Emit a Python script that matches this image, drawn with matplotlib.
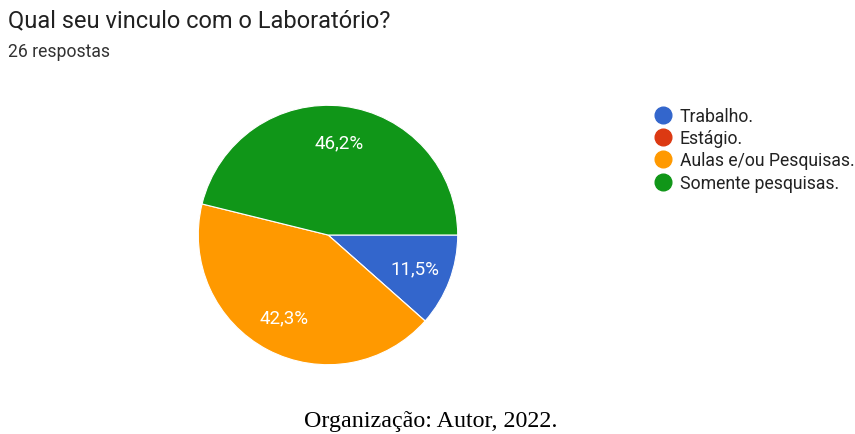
import matplotlib
matplotlib.use("Agg")
from matplotlib import pyplot as plt
from matplotlib.lines import Line2D

title = "Qual seu vinculo com o Laboratório?"
subtitle = "26 respostas"
caption = "Organização: Autor, 2022."
labels = ["Trabalho.", "Estágio.", "Aulas e/ou Pesquisas.", "Somente pesquisas."]
counts = [3, 0, 11, 12]
colors = ["#3366cc", "#dc3912", "#ff9900", "#109618"]


def pctFormat(p):
	if p < 0.05:
		return ""
	return "{0:.1f}%".format(p).replace(".", ",")


plt.rcParams["font.family"] = ["Roboto", "DejaVu Sans"]
fig = plt.figure(figsize=(8.55, 4.35), dpi=100)

# Pie #
ax = fig.add_axes([197 / 855, 68 / 435, 262 / 855, 262 / 435])
wedges, texts, autotexts = ax.pie(counts, colors=colors, startangle=0, counterclock=False,
	autopct=pctFormat, pctdistance=0.72, radius=1,
	wedgeprops={"edgecolor": "white", "linewidth": 0.8},
	textprops={"color": "white", "fontsize": 13.5})
ax.set_xlim(-1.01, 1.01)
ax.set_ylim(-1.01, 1.01)
ax.set_aspect("equal")
ax.axis("off")

# Legend #
handles = [Line2D([], [], linestyle="none", marker="o", markersize=12,
	markerfacecolor=c, markeredgecolor=c) for c in colors]
fig.legend(handles, labels, loc="upper left", bbox_to_anchor=(654 / 855, 1 - 108 / 435),
	frameon=False, fontsize=12.7, labelspacing=0.24, handletextpad=0.45,
	handlelength=1.0, borderaxespad=0, borderpad=0, labelcolor="#222222")

# Texts #
fig.text(8 / 855, 1 - 21 / 435, title, fontsize=17, color="#212121", va="center", ha="left")
fig.text(8 / 855, 1 - 52 / 435, subtitle, fontsize=12.7, color="#333333", va="center", ha="left")
fig.text(431 / 855, 1 - 422 / 435, caption, fontsize=17.3, color="black", va="center", ha="center",
	family="Liberation Serif")

fig.savefig("out.png", dpi=100)
plt.close(fig)
